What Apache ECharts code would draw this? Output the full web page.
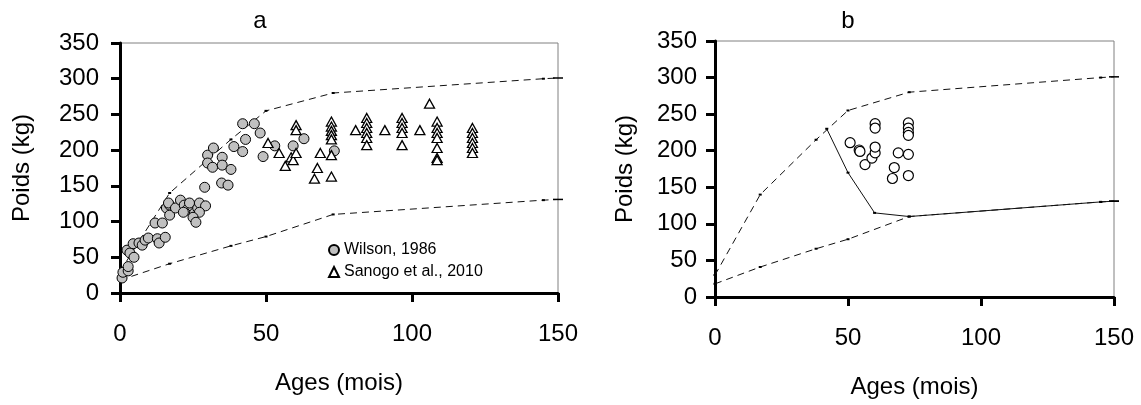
<!DOCTYPE html>
<html>
<head>
<meta charset="utf-8">
<script src="https://cdn.jsdelivr.net/npm/echarts@6/dist/echarts.min.js"></script>
<style>html,body{margin:0;padding:0;background:#fff}#c{width:1141px;height:405px}</style>
</head>
<body>
<div id="c"></div>
<script>
// ---- data ----
const xTicks = [0, 50, 100, 150];
const yTicks = [0, 50, 100, 150, 200, 250, 300, 350];

// Panel a: Wilson, 1986 (age in months, weight in kg)
const wilson = [
  [0.7,21],[1,29],[2.8,31],[2.8,37],[2.4,60],[3.4,56],[4.8,50],[4.5,69],[6.5,70],[7.6,67],
  [8.6,74],[9.7,77],[12.8,76],[13.4,70],[15.5,78],[12,98],[14.5,98],[15.9,119],[17,123],[17,109],
  [16.6,126],[19,119],[20.7,130],[22,123],[22.8,116],[24.8,121],[25.5,112],[26.6,119],[27.2,126],
  [29.3,122],[23.8,126],[27.2,113],[25,106],[26,99],[21.7,113],[29,148],[30,193],[30,182],[32,203],
  [31.7,176],[35,190],[35,179],[38,173],[34.8,154],[37,151],[39,205],[42,198],[43,215],[42,237],
  [46,237],[48,224],[49,191],[53,206],[59.3,206],[63,216],[73.4,199]
];
// Panel a: Sanogo et al., 2010
const sanogo = [
  [50.7,210],[54.5,196],[56.6,178],[58.6,190],[59.3,186],[60.3,235],[60.3,228],[60.3,196],
  [66.6,160],[67.6,175],[68.6,196],[72.4,163],[72.4,193],[72.4,240],[72.4,233],[72.4,227],
  [72.4,221],[72.4,215],[80.7,228],[84.5,245],[84.5,238],[84.5,231],[84.5,224],[84.5,217],
  [84.5,207],[90.7,228],[96.6,245],[96.6,238],[96.6,231],[96.6,224],[96.6,207],[102.7,228],
  [106,265],[108.6,240],[108.6,231],[108.6,224],[108.6,217],[108.6,203],[108.6,189],[108.6,186],
  [120.7,231],[120.7,224],[120.7,217],[120.7,210],[120.7,203],[120.7,196]
];
// Growth envelope curves (dashed)
const upperCurve = [[0,30],[17,140],[38,215],[50,255],[73,280],[145,300],[150,301]];
const lowerCurve = [[0,18],[17,41],[38,66],[50,79],[73,110],[145,130],[150,131]];
// Panel b: observed animals and solid boundary
const panelB = [
  [50.8,211],[54.2,201],[54.5,199],[56.4,181],[59,190],[60.2,197],[60.2,205],[60.2,237],[60.2,231],
  [66.7,162],[67.4,177],[68.9,197],[72.7,238],[72.7,231],[72.7,225],[72.7,221],[72.7,195],[72.7,166]
];
const solidCurve = [[42,230],[50,170],[60,115],[73,110],[145,130],[150,131]];

// ---- chart ----
const FONT = 'Liberation Sans, Arial, sans-serif';
const chart = echarts.init(document.getElementById('c'), null, {renderer: 'canvas'});

function xAxis(gi) {
  return {
    type: 'value', gridIndex: gi, min: 0, max: 150, interval: 50,
    name: 'Ages (mois)', nameLocation: 'middle', nameGap: 78,
    nameTextStyle: {fontFamily: FONT, fontSize: 24, color: '#000'},
    axisLine: {show: true, onZero: false, lineStyle: {color: '#000', width: 3}},
    axisTick: {show: true, length: 9, lineStyle: {color: '#000', width: 3}},
    axisLabel: {margin: 29, fontFamily: FONT, fontSize: 24, color: '#000',
      formatter: v => xTicks.includes(v) ? String(v) : ''},
    splitLine: {show: false}
  };
}
function yAxis(gi, gap, lm) {
  return {
    type: 'value', gridIndex: gi, min: 0, max: 350, interval: 50,
    name: 'Poids (kg)', nameLocation: 'middle', nameGap: gap,
    nameTextStyle: {fontFamily: FONT, fontSize: 24, color: '#000'},
    axisLine: {show: true, onZero: false, lineStyle: {color: '#000', width: 3}},
    axisTick: {show: true, length: 9, lineStyle: {color: '#000', width: 3}},
    axisLabel: {margin: lm, fontFamily: FONT, fontSize: 24, color: '#000',
      formatter: v => yTicks.includes(v) ? String(v) : ''},
    splitLine: {show: false}
  };
}
function dashed(data, xi, name, type) {
  return {
    type: 'line', name: name, xAxisIndex: xi, yAxisIndex: xi, data: data,
    symbol: 'rect', symbolSize: v => v[0] >= 150 ? [10, 1.5] : [3, 2],
    itemStyle: {color: '#000'},
    lineStyle: {color: '#111', width: 1, type: type || [7, 5]},
    z: 1, silent: true, clip: false, animation: false
  };
}

chart.setOption({
  animation: false,
  backgroundColor: '#fff',
  grid: [
    {left: 120, right: 583, top: 43, bottom: 112, show: true, borderColor: '#808080', borderWidth: 1, backgroundColor: 'transparent'},
    {left: 715, right: 27, top: 41, bottom: 108, show: true, borderColor: '#808080', borderWidth: 1, backgroundColor: 'transparent'}
  ],
  xAxis: [xAxis(0), xAxis(1)],
  yAxis: [yAxis(0, 86, 21), yAxis(1, 78, 18)],
  legend: {
    orient: 'vertical', left: 323, top: 237, itemWidth: 10, itemHeight: 10, itemGap: 6,
    textStyle: {fontFamily: FONT, fontSize: 16, color: '#000'},
    data: [{name: 'Wilson, 1986', icon: 'circle'}, {name: 'Sanogo et al., 2010', icon: 'triangle'}],
    selectedMode: false
  },
  graphic: [
    {type: 'text', x: 260, y: 21, style: {text: 'a', fontFamily: FONT, fontSize: 24, fill: '#000', align: 'center', verticalAlign: 'middle'}},
    {type: 'text', x: 848, y: 21, style: {text: 'b', fontFamily: FONT, fontSize: 24, fill: '#000', align: 'center', verticalAlign: 'middle'}}
  ],
  series: [
    dashed(upperCurve, 0, 'upA'),
    dashed(lowerCurve, 0, 'lowA'),
    {
      type: 'scatter', name: 'Wilson, 1986', xAxisIndex: 0, yAxisIndex: 0, data: wilson,
      symbol: 'circle', symbolSize: 10,
      itemStyle: {color: '#c0c0c0', borderColor: '#000', borderWidth: 1, opacity: 1}, z: 3
    },
    {
      type: 'scatter', name: 'Sanogo et al., 2010', xAxisIndex: 0, yAxisIndex: 0, data: sanogo,
      symbol: 'triangle', symbolSize: [10, 9],
      itemStyle: {color: '#fff', borderColor: '#000', borderWidth: 1.3, opacity: 1}, z: 4
    },
    dashed(upperCurve, 1, 'upB'),
    dashed(lowerCurve, 1, 'lowB'),
    dashed(solidCurve, 1, 'solidB', 'solid'),
    {
      type: 'scatter', name: 'b', xAxisIndex: 1, yAxisIndex: 1, data: panelB,
      symbol: 'circle', symbolSize: 10,
      itemStyle: {color: '#fff', borderColor: '#000', borderWidth: 1.2, opacity: 1}, z: 3
    }
  ]
});
</script>
</body>
</html>
